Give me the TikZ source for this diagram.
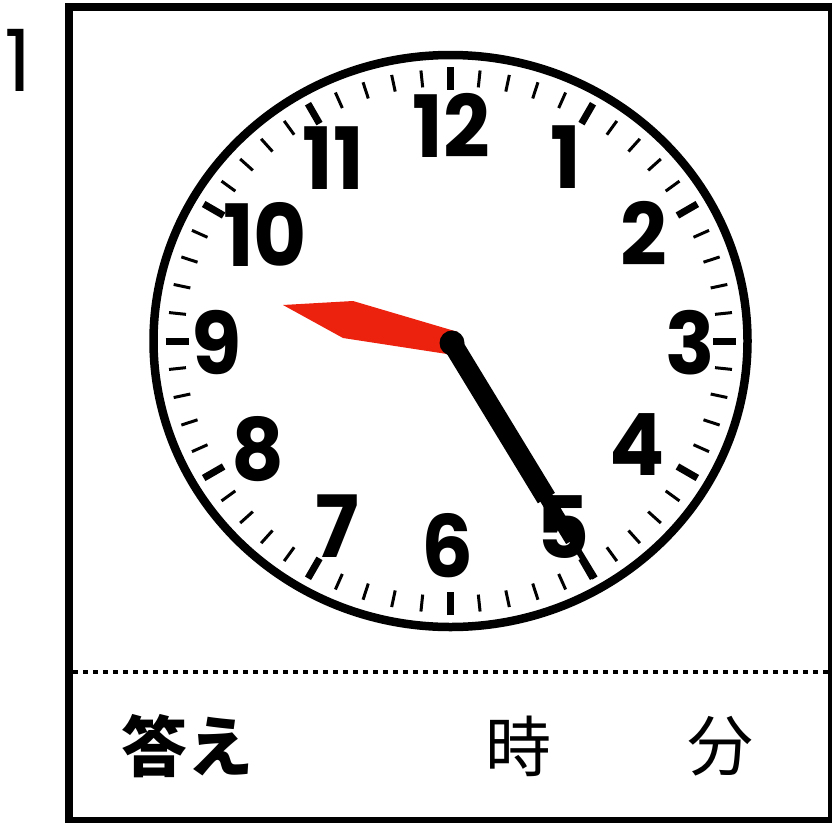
\documentclass[tikz,border=0pt]{standalone}
\usepackage{fontspec}
\usetikzlibrary{calc}
\newfontfamily\clockfont[FakeStretch=0.95]{Poppins}
\newfontfamily\labelfont{Poppins}
\newfontfamily\jpfont{Noto Sans CJK JP}
\definecolor{handred}{RGB}{236,33,14}
\tikzset{
  numstyle/.style={inner sep=0pt, font=\clockfont\bfseries\fontsize{86}{86}\selectfont},
  jpstyle/.style={inner sep=0pt, font=\jpfont\fontsize{66}{66}\selectfont},
  jpbold/.style={inner sep=0pt, font=\jpfont\bfseries\fontsize{66}{66}\selectfont},
  minortick/.style={line width=3pt},
  majortick/.style={line width=7pt},
  rim/.style={line width=8.5pt},
  frame/.style={line width=8pt},
}
\begin{document}
\begin{tikzpicture}[x=1pt,y=-1pt]
\useasboundingbox (0,0) rectangle (832,822);
\clip (0,0) rectangle (832,822);
\fill[white] (0,0) rectangle (832,822);
% frame
\draw[frame] (69,7) rectangle (832,821);
\draw[line width=4.5pt, dash pattern=on 4.5pt off 5.5pt] (73,672) -- (828,672);
% problem number
\node[inner sep=0pt, font=\labelfont\fontsize{86}{86}\selectfont] (qnum) at (18,60) {1};
% clock face
\def\cx{450.5}\def\cy{341}\def\rx{297}\def\ry{286}
\draw[rim] (\cx,\cy) ellipse [x radius=\rx, y radius=\ry];
\foreach \i in {0,...,59}{
  \pgfmathsetmacro{\t}{90-6*\i}
  \pgfmathtruncatemacro{\m}{mod(\i,5)}
  \ifnum\m=0
    \draw[majortick] ({\cx+(\rx-12)*cos(\t)},{\cy-(\ry-12)*sin(\t)}) -- ({\cx+(\rx-35)*cos(\t)},{\cy-(\ry-35)*sin(\t)});
  \else
    \draw[minortick] ({\cx+(\rx-14)*cos(\t)},{\cy-(\ry-14)*sin(\t)}) -- ({\cx+(\rx-31)*cos(\t)},{\cy-(\ry-31)*sin(\t)});
  \fi
}
% numerals
\node[numstyle] (n12) at (451,125) {12};
\node[numstyle] (n1) at (566,157) {1};
\node[numstyle] (n2) at (644,233) {2};
\node[numstyle] (n3) at (690,343) {3};
\node[numstyle] (n4) at (637,445) {4};
\node[numstyle] (n5) at (563,527) {5};
\node[numstyle] (n6) at (448,546) {6};
\node[numstyle] (n7) at (337,526) {7};
\node[numstyle] (n8) at (258,449) {8};
\node[numstyle] (n9) at (217,343) {9};
\node[numstyle] (n10) at (265,234) {10};
\node[numstyle] (n11) at (333,158) {11};
% hour hand (red)
\fill[handred] (283,305) -- (353,301) -- (458,332) -- (447,354) -- (343,338) -- cycle;
% minute hand
\coordinate (hub) at (452,343);
\coordinate (tip) at (595,578);
\draw[line width=20pt] (hub) -- ($(hub)!0.66!(tip)$);
\draw[line width=14pt] ($(hub)!0.6!(tip)$) -- ($(hub)!0.84!(tip)$);
\draw[line width=6pt] ($(hub)!0.8!(tip)$) -- (tip);
\fill (hub) circle (12.5);
% answer row
\node[jpbold] (ans) at (187,746) {答え};
\node[jpstyle] (ji) at (518,746) {時};
\node[jpstyle] (fun) at (720,746) {分};
\end{tikzpicture}
\end{document}
